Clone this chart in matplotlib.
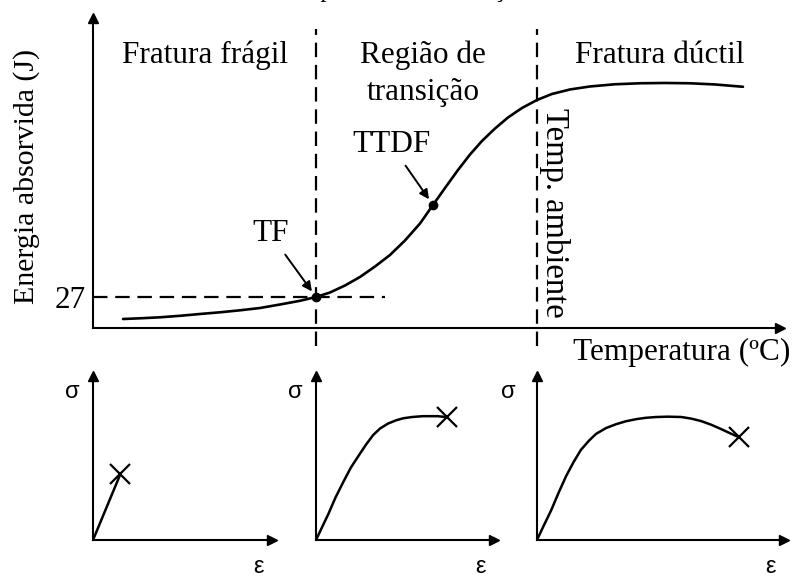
import matplotlib.pyplot as plt

plt.rcParams['font.family'] = ['Liberation Serif', 'DejaVu Serif']

# Charpy curve: temperature (arbitrary units) vs absorbed energy (J)
temp = [4.37, 6.84, 9.75, 12.66, 15.57, 18.49, 21.40, 24.31, 27.22, 30.13,
        32.46, 34.50, 36.68, 38.86, 41.05, 43.23, 45.41, 47.60, 49.49, 51.24,
        53.13, 54.88, 56.62, 58.52, 60.41, 62.45, 64.63, 66.81, 69.43, 72.34,
        75.98, 79.62, 83.26, 86.90, 90.54, 94.61]
energy = [7.84, 8.45, 9.32, 10.63, 12.20, 13.68, 15.42, 17.42, 20.47, 23.69,
          27.0, 30.92, 37.02, 44.43, 53.57, 63.57, 76.22, 91.03, 107.14, 121.95,
          137.63, 151.13, 162.89, 173.78, 183.36, 191.64, 198.61, 203.83, 207.75, 210.37,
          212.28, 213.15, 213.41, 213.15, 212.11, 210.10]

tf_point = (32.46, 27.0)       # TF
ttdf_point = (49.49, 107.14)   # TTDF
t_ambient = 64.63
e_ref = 27

region_lines = [('Fratura frágil', 16.3, 230.8),
                ('Região de', 48.0, 230.8),
                ('transição', 48.0, 198.6),
                ('Fratura dúctil', 82.5, 230.8)]

# stress-strain sketches (fractions of each small axes)
brittle_eps = [0, 0.153]
brittle_sig = [0, 0.402]
trans_eps = [0, 0.035, 0.07, 0.11, 0.154, 0.195, 0.237, 0.28, 0.321, 0.36,
             0.405, 0.45, 0.489, 0.54, 0.601, 0.684, 0.735]
trans_sig = [0, 0.08, 0.16, 0.26, 0.355, 0.44, 0.51, 0.58, 0.64, 0.68,
             0.71, 0.73, 0.742, 0.75, 0.755, 0.755, 0.749]
duct_eps = [0, 0.028, 0.057, 0.088, 0.118, 0.148, 0.178, 0.21, 0.239, 0.28,
            0.32, 0.36, 0.402, 0.44, 0.483, 0.53, 0.584, 0.625, 0.665, 0.705,
            0.746, 0.78, 0.817]
duct_sig = [0, 0.09, 0.18, 0.29, 0.39, 0.475, 0.55, 0.605, 0.647, 0.683,
            0.706, 0.724, 0.737, 0.745, 0.75, 0.752, 0.75, 0.74, 0.725, 0.703,
            0.676, 0.652, 0.627]

W, H = 793, 577
fig = plt.figure(figsize=(W / 100, H / 100), dpi=100)
FS = 22.5


def px_axes(x0, y_top, x1, y_bot):
    return fig.add_axes([x0 / W, 1 - y_bot / H, (x1 - x0) / W, (y_bot - y_top) / H])


def arrow_spines(ax, lw=1.5, ms=7):
    for s in ['top', 'right']:
        ax.spines[s].set_visible(False)
    for s in ['left', 'bottom']:
        ax.spines[s].set_linewidth(lw)
    ax.plot(1, 0, '>k', ms=ms, transform=ax.get_yaxis_transform(), clip_on=False)
    ax.plot(0, 1, '^k', ms=ms, transform=ax.get_xaxis_transform(), clip_on=False)
    ax.set_facecolor('none')


# main chart
ax = px_axes(93, 18, 780, 328)
ax.set_xlim(0, 100)
ax.set_ylim(0, 270)
arrow_spines(ax)
ax.set_xticks([])
ax.set_yticks([e_ref])
ax.set_yticklabels([str(e_ref)], fontsize=FS)
ax.tick_params(axis='y', length=0, pad=5)

ax.plot(temp, energy, color='black', lw=1.9, solid_capstyle='round',
        solid_joinstyle='round')

dash = (0, (6.5, 3.5))
ax.plot([0, 42.5], [e_ref, e_ref], color='black', lw=1.6, ls=dash, clip_on=False)
for xv in [tf_point[0], t_ambient]:
    ax.plot([xv, xv], [-16, 260], color='black', lw=1.6, ls=dash, clip_on=False)

ax.plot(*tf_point, 'o', color='black', ms=6)
ax.plot(*ttdf_point, 'o', color='black', ms=6)

arrow = dict(arrowstyle='-|>', color='black', lw=1.4, mutation_scale=14,
             shrinkA=3, shrinkB=5)
ax.annotate('TF', xy=tf_point, xytext=(25.8, 81.9), fontsize=FS,
            ha='center', va='center', arrowprops=arrow)
ax.annotate('TTDF', xy=ttdf_point, xytext=(43.4, 159.4), fontsize=FS,
            ha='center', va='center', arrowprops=arrow)

for lab, xv, yv in region_lines:
    ax.text(xv, yv, lab, fontsize=FS, ha='center', va='baseline')

ax.text(67.2, 191.6, 'Temp. ambiente', fontsize=23.5, rotation=-90,
        ha='center', va='top')

fig.text(27 / W, 1 - 176 / H, 'Energia absorvida (J)', fontsize=21.5,
         rotation=90, ha='center', va='center')
fig.text(790 / W, 1 - 352 / H, 'Temperatura (ºC)', fontsize=FS,
         ha='right', va='center')
fig.text(402 / W, 1 + 3 / H, 'Temperatura de transição', fontsize=18,
         ha='center', va='baseline')

# stress-strain sketches below the curve
sketches = [
    ((93, 272), brittle_eps, brittle_sig),
    ((316, 494), trans_eps, trans_sig),
    ((537, 784), duct_eps, duct_sig),
]
for (x0, x1), eps, sig in sketches:
    sa = px_axes(x0, 376, x1, 540)
    sa.set_xlim(0, 1)
    sa.set_ylim(0, 1)
    arrow_spines(sa, lw=1.5, ms=7)
    sa.set_xticks([])
    sa.set_yticks([])
    sa.plot(eps, sig, color='black', lw=1.8, solid_joinstyle='round')
    sa.plot(eps[-1], sig[-1], 'x', color='black', ms=14, mew=1.6, clip_on=False)
    sa.text(-0.115, 0.9, 'σ', fontsize=17, family=['Liberation Sans', 'DejaVu Sans'],
            ha='center', va='center', transform=sa.transAxes)
    sa.text(1 - 13 / (x1 - x0), -0.165, 'ε', fontsize=17,
            family=['Liberation Sans', 'DejaVu Sans'],
            ha='center', va='center', transform=sa.transAxes)

fig.savefig('out.png', dpi=100)
